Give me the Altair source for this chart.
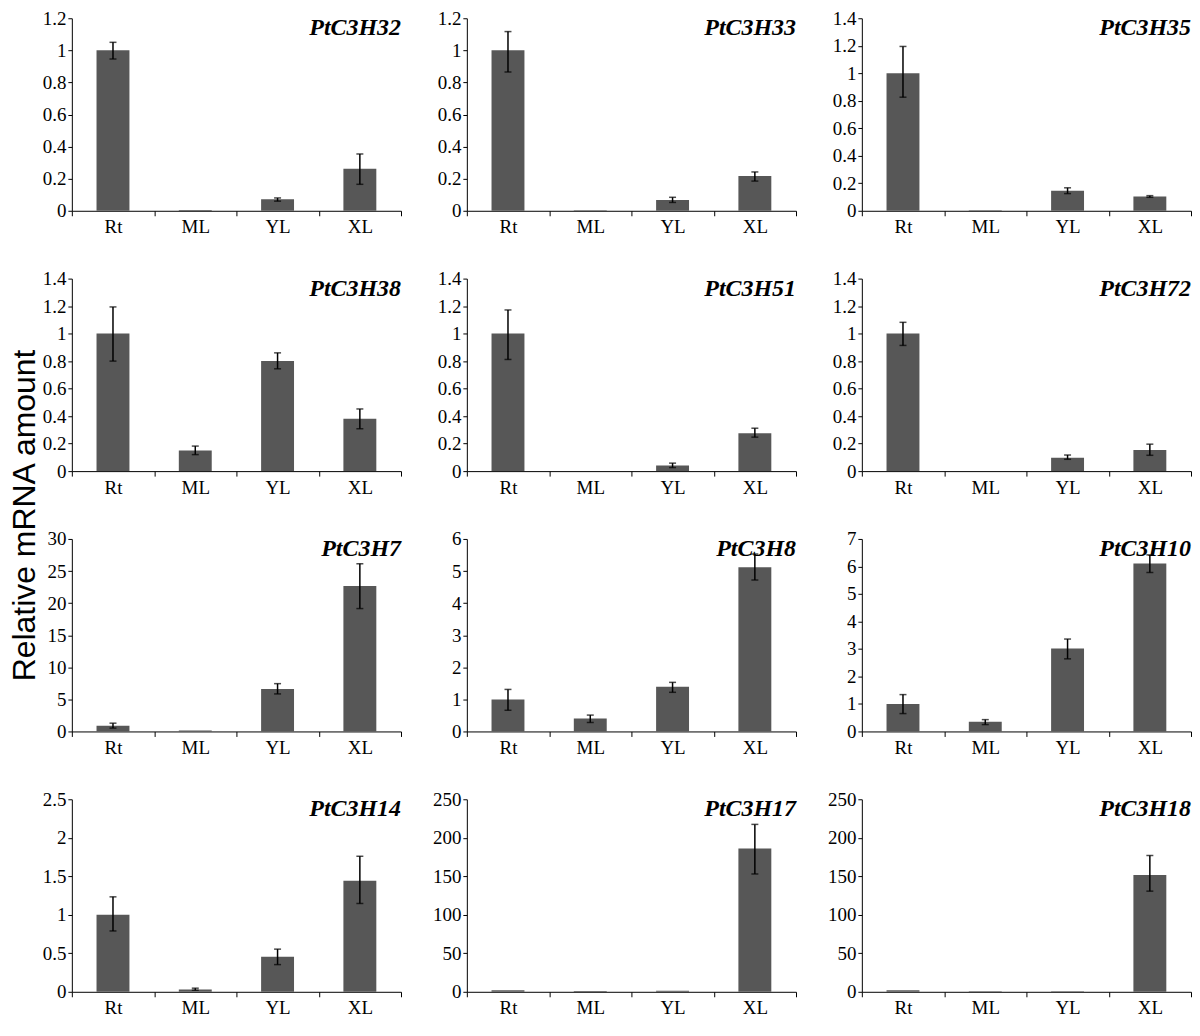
import altair as alt
import pandas as pd

TISSUES = ["Rt", "ML", "YL", "XL"]
GENES = ["PtC3H32", "PtC3H33", "PtC3H35",
         "PtC3H38", "PtC3H51", "PtC3H72",
         "PtC3H7", "PtC3H8", "PtC3H10",
         "PtC3H14", "PtC3H17", "PtC3H18"]

MEANS = [
    [1.0, 0.005, 0.072, 0.262],
    [1.0, 0.004, 0.067, 0.216],
    [1.0, 0.004, 0.145, 0.104],
    [1.0, 0.149, 0.80, 0.38],
    [1.0, 0.0, 0.041, 0.276],
    [1.0, 0.0, 0.098, 0.153],
    [0.88, 0.15, 6.62, 22.67],
    [0.997, 0.40, 1.39, 5.12],
    [1.0, 0.35, 3.02, 6.11],
    [1.0, 0.03, 0.455, 1.443],
    [2.0, 1.0, 1.5, 186.0],
    [2.0, 0.8, 0.8, 151.7],
]
LOWER = [
    [0.946, 0.005, 0.06, 0.165],
    [0.865, 0.004, 0.052, 0.185],
    [0.826, 0.004, 0.125, 0.098],
    [0.80, 0.12, 0.744, 0.308],
    [0.812, 0.0, 0.026, 0.247],
    [0.914, 0.0, 0.086, 0.115],
    [0.52, 0.15, 5.85, 19.15],
    [0.66, 0.28, 1.22, 4.72],
    [0.65, 0.25, 2.64, 5.78],
    [0.79, 0.02, 0.353, 1.147],
    [2.0, 1.0, 1.5, 153.0],
    [2.0, 0.8, 0.8, 130.7],
]
UPPER = [
    [1.05, 0.005, 0.08, 0.354],
    [1.117, 0.004, 0.084, 0.242],
    [1.195, 0.004, 0.167, 0.11],
    [1.194, 0.182, 0.86, 0.452],
    [1.172, 0.0, 0.058, 0.312],
    [1.082, 0.0, 0.117, 0.196],
    [1.29, 0.15, 7.45, 26.13],
    [1.31, 0.51, 1.53, 5.53],
    [1.34, 0.43, 3.36, 6.42],
    [1.233, 0.047, 0.554, 1.76],
    [2.0, 1.0, 1.5, 217.4],
    [2.0, 0.8, 0.8, 177.0],
]
Y_MAX = [1.2, 1.2, 1.4, 1.4, 1.4, 1.4, 30, 6, 7, 2.5, 250, 250]
Y_TICKS = [
    [0, 0.2, 0.4, 0.6, 0.8, 1, 1.2],
    [0, 0.2, 0.4, 0.6, 0.8, 1, 1.2],
    [0, 0.2, 0.4, 0.6, 0.8, 1, 1.2, 1.4],
    [0, 0.2, 0.4, 0.6, 0.8, 1, 1.2, 1.4],
    [0, 0.2, 0.4, 0.6, 0.8, 1, 1.2, 1.4],
    [0, 0.2, 0.4, 0.6, 0.8, 1, 1.2, 1.4],
    [0, 5, 10, 15, 20, 25, 30],
    [0, 1, 2, 3, 4, 5, 6],
    [0, 1, 2, 3, 4, 5, 6, 7],
    [0, 0.5, 1, 1.5, 2, 2.5],
    [0, 50, 100, 150, 200, 250],
    [0, 50, 100, 150, 200, 250],
]

W, H = 330, 193
BAR_COLOR = "#575757"


def panel(i):
    df = pd.DataFrame({
        "tissue": TISSUES,
        "mean": MEANS[i],
        "lo": LOWER[i],
        "hi": UPPER[i],
    })
    base = alt.Chart(df)
    x = alt.X("tissue:N", sort=TISSUES, title=None,
              scale=alt.Scale(paddingInner=0, paddingOuter=0))
    yscale = alt.Scale(domain=[0, Y_MAX[i]], nice=False, zero=True)
    yaxis = alt.Axis(values=Y_TICKS[i], format="~r", labelOverlap=False)

    def yenc(field):
        return alt.Y(field, type="quantitative", scale=yscale, title=None,
                     axis=yaxis)

    bars = base.mark_bar(size=33, color=BAR_COLOR).encode(
        x=x, y=yenc("mean"))
    err = base.transform_filter("datum.hi > datum.lo")
    rule = err.mark_rule(color="black", strokeWidth=1.5).encode(
        x=x, y=yenc("lo"), y2="hi:Q")
    cap_lo = err.mark_tick(orient="horizontal", size=7, thickness=1.5,
                           color="black").encode(x=x, y=yenc("lo"))
    cap_hi = err.mark_tick(orient="horizontal", size=7, thickness=1.5,
                           color="black").encode(x=x, y=yenc("hi"))
    label = alt.Chart(pd.DataFrame({"g": [GENES[i]]})).mark_text(
        align="right", baseline="alphabetic", font="Liberation Serif",
        fontSize=24, fontWeight="bold", fontStyle="italic", color="black",
    ).encode(x=alt.value(W), y=alt.value(17), text="g:N")
    return alt.layer(bars, rule, cap_lo, cap_hi, label).properties(
        width=W, height=H)


panels = [panel(i) for i in range(12)]

chart = alt.concat(
    *panels, columns=3,
    spacing=alt.RowColnumber(row=68, column=66),
    bounds="flush",
).properties(
    title=alt.TitleParams(
        "Relative mRNA amount", orient="left", anchor="middle",
        font="Liberation Sans", fontSize=32, fontWeight="normal",
        color="black", offset=0),
    padding=0,
).configure_view(stroke=None).configure_axis(
    domainColor="black", tickColor="black", labelColor="black",
    labelFont="Liberation Serif", grid=False, domainWidth=1, tickWidth=1,
).configure_axisX(
    labelFontSize=19, tickSize=5, labelPadding=2, labelAngle=0,
    tickBand="extent", minExtent=30, maxExtent=30,
).configure_axisY(
    labelFontSize=19, tickSize=4, labelPadding=2, minExtent=30, maxExtent=30,
)

chart.save("out.html", embed_options={"renderer": "svg", "actions": False})
